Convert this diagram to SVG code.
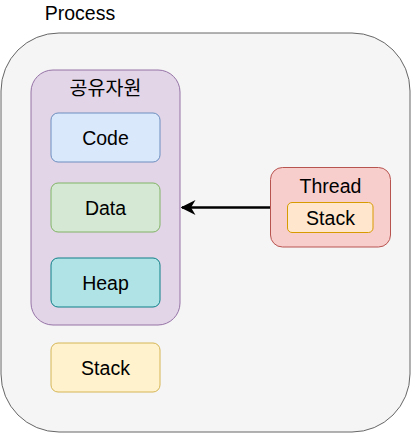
<svg xmlns="http://www.w3.org/2000/svg" width="411" height="433" viewBox="0 0 411 433">
<style>
text{font-family:"Liberation Sans",Arial,"Noto Sans CJK KR",sans-serif;font-size:19.5px;fill:#000;text-anchor:middle}
</style>
<defs>
<marker id="arr" viewBox="0 0 10 10" refX="9" refY="5" markerWidth="6" markerHeight="6" markerUnits="strokeWidth" orient="auto">
<path d="M0,0 L10,5 L0,10 L3,5 Z" fill="#000"/>
</marker>
</defs>
<g id="process">
<rect x="1" y="33" width="409" height="399" rx="58" ry="58" fill="#f5f5f5" stroke="#666666"/>
<text x="80" y="20">Process</text>
</g>
<g id="shared">
<rect x="31" y="70" width="149" height="255" rx="22" ry="22" fill="#e1d5e7" stroke="#9673a6"/>
<text x="105.5" y="95">공유자원</text>
</g>
<g id="code">
<rect x="51" y="113" width="109" height="49" rx="7" ry="7" fill="#dae8fc" stroke="#6c8ebf"/>
<text x="105.5" y="145">Code</text>
</g>
<g id="data">
<rect x="51" y="183" width="109" height="49" rx="7" ry="7" fill="#d5e8d4" stroke="#82b366"/>
<text x="105.5" y="215">Data</text>
</g>
<g id="heap">
<rect x="51" y="258" width="109" height="49" rx="7" ry="7" fill="#b0e3e6" stroke="#0e8088"/>
<text x="105.5" y="290">Heap</text>
</g>
<g id="stack">
<rect x="51" y="343" width="109" height="49" rx="7" ry="7" fill="#fff2cc" stroke="#d6b656"/>
<text x="105.5" y="375">Stack</text>
</g>
<g id="thread">
<rect x="270.5" y="167.5" width="120" height="79.5" rx="12" ry="12" fill="#f8cecc" stroke="#b85450"/>
<text x="330.5" y="192.5">Thread</text>
</g>
<g id="thread-stack">
<rect x="287.5" y="202.5" width="85.5" height="30" rx="4.5" ry="4.5" fill="#ffe6cc" stroke="#d79b00"/>
<text x="330.5" y="224.5">Stack</text>
</g>
<g id="connectors">
<line x1="270" y1="207.5" x2="182" y2="207.5" stroke="#000" stroke-width="2.5" marker-end="url(#arr)"/>
</g>
</svg>
